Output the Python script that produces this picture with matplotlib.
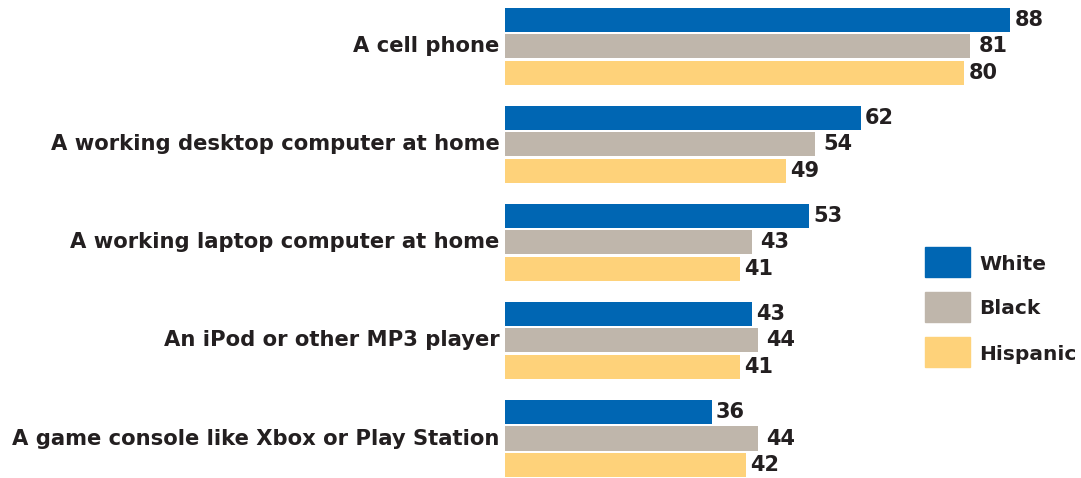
import numpy as np
import matplotlib
matplotlib.use("Agg")
import matplotlib.pyplot as plt
from matplotlib.patches import Rectangle

# data
items = ["A cell phone",
         "A working desktop computer at home",
         "A working laptop computer at home",
         "An iPod or other MP3 player",
         "A game console like Xbox or Play Station"]
groups = ["White", "Black", "Hispanic"]
white = [88, 62, 53, 43, 36]
black = [81, 54, 43, 44, 44]
hispanic = [80, 49, 41, 41, 42]

colors = ["#0066b3", "#bfb6ab", "#fed27a"]
txt = "#231f20"
plt.rcParams["font.family"] = ["DejaVu Sans"]

fig = plt.figure(figsize=(10.81, 4.78), dpi=100)
ax = fig.add_axes([0.467, 0.0, 0.533, 1.0])

pitch = 0.27
h = 0.245
y = np.arange(len(items))
label_pad = [3, 6, 3]
for k, (vals, c) in enumerate(zip([white, black, hispanic], colors)):
    yy = y + (k - 1) * pitch
    ax.barh(yy, vals, height=h, color=c)
    for yi, v in zip(yy, vals):
        ax.annotate(str(v), (v, yi), xytext=(label_pad[k], 0), textcoords="offset points",
                    ha="left", va="center", fontsize=15, fontweight="bold", color=txt)

ax.set_xlim(0, 100.3)
ax.set_ylim(4.403, -0.474)
ax.axis("off")

# category labels
for yi, name in zip(y, items):
    ax.annotate(name, (0, yi), xytext=(-4, 0), textcoords="offset points",
                ha="right", va="center", fontsize=15.2, fontweight="bold", color=txt)

# legend
for k, (g, c) in enumerate(zip(groups, colors)):
    top = 247 + k * 45
    fig.add_artist(Rectangle((925 / 1081, 1 - (top + 30) / 478), 45 / 1081, 30 / 478,
                             transform=fig.transFigure, color=c))
    fig.text(979 / 1081, 1 - (top + 17) / 478, g, ha="left", va="center",
             fontsize=14.5, fontweight="bold", color=txt)

fig.savefig("out.png", dpi=100, facecolor="white")
